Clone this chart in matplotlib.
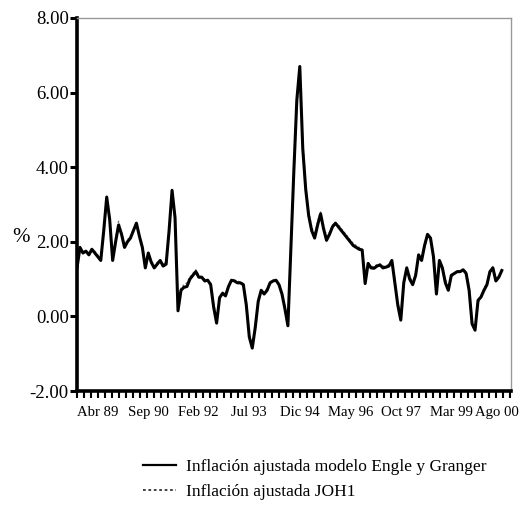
import matplotlib
matplotlib.use("Agg")
import matplotlib.pyplot as plt
import matplotlib.transforms as mtrans
import numpy as np

# Monthly series, Sep 88 .. Ago 00 (index 0 = Sep 88)
engle_granger = [
    1.30, 1.85, 1.70, 1.75, 1.65, 1.80, 1.70, 1.60, 1.50, 2.30,
    3.20, 2.60, 1.50, 2.00, 2.45, 2.20, 1.85, 2.00, 2.10, 2.30,
    2.50, 2.15, 1.85, 1.30, 1.70, 1.45, 1.30, 1.40, 1.50, 1.35,
    1.40, 2.30, 3.38, 2.65, 0.15, 0.70, 0.78, 0.80, 1.00, 1.10,
    1.20, 1.05, 1.05, 0.95, 0.97, 0.85, 0.25, -0.18, 0.50, 0.62,
    0.55, 0.80, 0.97, 0.95, 0.90, 0.90, 0.85, 0.30, -0.55, -0.85,
    -0.30, 0.40, 0.70, 0.60, 0.70, 0.90, 0.95, 0.97, 0.85, 0.60,
    0.20, -0.25, 1.80, 3.90, 5.80, 6.70, 4.50, 3.40, 2.70, 2.30,
    2.10, 2.45, 2.75, 2.35, 2.04, 2.20, 2.40, 2.50, 2.40, 2.30,
    2.20, 2.10, 2.00, 1.90, 1.85, 1.80, 1.78, 0.88, 1.42, 1.30,
    1.29, 1.35, 1.38, 1.30, 1.32, 1.35, 1.50, 0.90, 0.30, -0.10,
    0.90, 1.30, 1.00, 0.85, 1.10, 1.65, 1.50, 1.90, 2.20, 2.10,
    1.60, 0.60, 1.50, 1.30, 0.90, 0.70, 1.10, 1.15, 1.20, 1.20,
    1.25, 1.15, 0.70, -0.20, -0.37, 0.43, 0.52, 0.70, 0.85, 1.20,
    1.30, 0.95, 1.05, 1.23,
]
joh1 = [
    1.35, 1.80, 1.75, 1.70, 1.70, 1.75, 1.75, 1.65, 1.55, 2.20,
    3.10, 2.70, 1.60, 2.10, 2.55, 2.25, 1.90, 2.05, 2.15, 2.35,
    2.45, 2.20, 1.90, 1.40, 1.65, 1.50, 1.35, 1.45, 1.45, 1.40,
    1.45, 2.20, 3.30, 2.70, 0.30, 0.75, 0.85, 0.90, 1.05, 1.15,
    1.25, 1.10, 1.05, 1.00, 0.95, 0.90, 0.35, -0.10, 0.45, 0.65,
    0.60, 0.85, 0.95, 0.97, 0.95, 0.92, 0.88, 0.40, -0.45, -0.80,
    -0.35, 0.35, 0.72, 0.65, 0.75, 0.92, 0.97, 0.95, 0.88, 0.65,
    0.30, -0.15, 1.70, 3.80, 5.60, 6.50, 4.70, 3.50, 2.80, 2.40,
    2.20, 2.55, 2.80, 2.45, 2.15, 2.25, 2.45, 2.50, 2.45, 2.35,
    2.25, 2.15, 2.05, 1.95, 1.90, 1.85, 1.80, 1.00, 1.40, 1.35,
    1.32, 1.40, 1.40, 1.35, 1.35, 1.40, 1.45, 1.00, 0.40, 0.00,
    0.85, 1.35, 1.10, 0.90, 1.15, 1.60, 1.55, 1.85, 2.15, 2.10,
    1.65, 0.75, 1.45, 1.35, 1.00, 0.80, 1.05, 1.15, 1.20, 1.25,
    1.25, 1.20, 0.80, -0.10, -0.30, 0.35, 0.55, 0.75, 0.90, 1.15,
    1.35, 1.00, 1.10, 1.25,
]
tick_labels = ["Abr 89", "Sep 90", "Feb 92", "Jul 93", "Dic 94",
               "May 96", "Oct 97", "Mar 99", "Ago 00"]
tick_months = [7, 24, 41, 58, 75, 92, 109, 126, 143]
y_ticks = [-2, 0, 2, 4, 6, 8]
label_eg = "Inflación ajustada modelo Engle y Granger"
label_joh = "Inflación ajustada JOH1"

SERIF = ['Liberation Serif', 'DejaVu Serif']

fig = plt.figure(figsize=(5.21, 5.29), dpi=100)
ax = fig.add_axes([77 / 521, 1 - 391 / 529, (511 - 77) / 521, (391 - 18) / 529])

x = np.arange(len(engle_granger))
ax.plot(x, joh1, color='#777777', lw=1.0, ls=(0, (1.5, 1.5)), label=label_joh, zorder=2)
ax.plot(x, engle_granger, color='black', lw=2.2, label=label_eg, zorder=3)

ax.set_xlim(0, 146.1)
ax.set_ylim(-2, 8)

ax.set_yticks(y_ticks)
ax.set_yticklabels([f"{v:.2f}" for v in y_ticks], family=SERIF, fontsize=13.5)
ax.set_xticks(tick_months)
ax.set_xticklabels(tick_labels, family=SERIF, fontsize=10.6)
ax.set_xticks(np.arange(0, 146.1, 2.35), minor=True)

ax.tick_params(axis='y', direction='out', length=5, width=2.2, pad=1, colors='black')
ax.tick_params(axis='x', which='major', direction='out', length=0, width=0, pad=11)
ax.tick_params(axis='x', which='minor', direction='out', length=5, width=1.5)

# keep the last label inside the figure
last = ax.get_xticklabels()[-1]
last.set_transform(last.get_transform() +
                   mtrans.ScaledTranslation(-5 / 100, 0, fig.dpi_scale_trans))

for s in ['left', 'bottom']:
    ax.spines[s].set_linewidth(2.6)
    ax.spines[s].set_color('black')
for s in ['top', 'right']:
    ax.spines[s].set_linewidth(1.0)
    ax.spines[s].set_color('#999999')
    ax.spines[s].set_linestyle((0, (1, 1)))

ax.set_ylabel('%', family=SERIF, fontsize=15, rotation=0, labelpad=0)
ax.yaxis.set_label_coords(-0.13, 0.385)

handles, labels = ax.get_legend_handles_labels()
leg = fig.legend(handles[::-1], labels[::-1], loc='upper left',
                 bbox_to_anchor=(143 / 521, 1 - 459 / 529), frameon=False,
                 prop={'family': SERIF, 'size': 12.5}, handlelength=1.9,
                 handletextpad=0.6, labelspacing=0.5, borderpad=0, borderaxespad=0)
leg.get_lines()[1].set_color('#333333')
leg.get_lines()[1].set_linewidth(1.3)
leg.get_lines()[0].set_linewidth(1.6)

fig.savefig("out.png", dpi=100)
